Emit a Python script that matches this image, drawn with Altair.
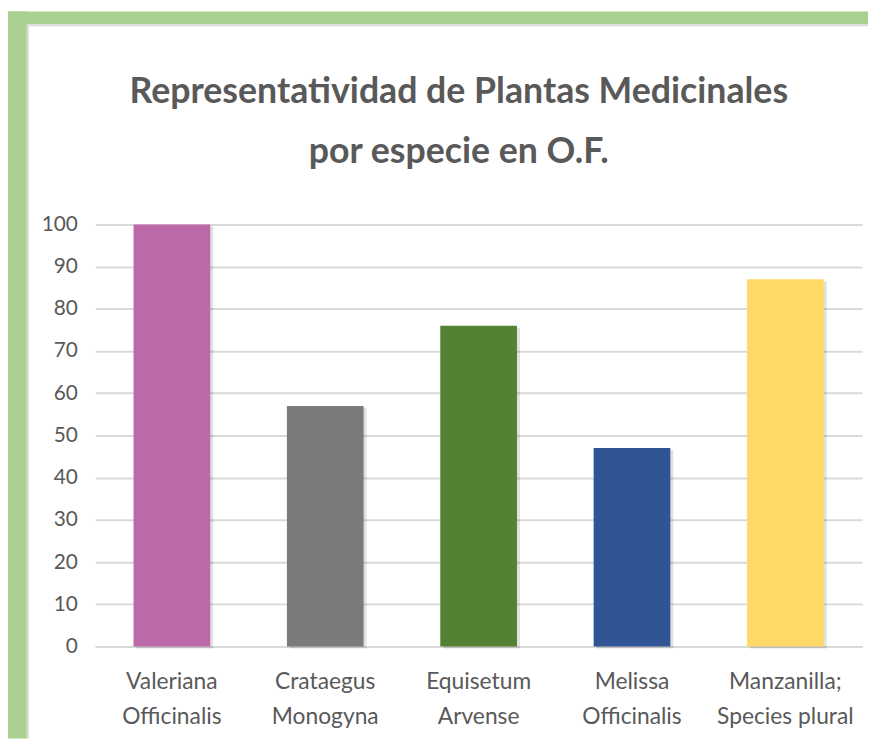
import altair as alt
import pandas as pd

categories = ["Valeriana\nOfficinalis", "Crataegus\nMonogyna", "Equisetum\nArvense",
              "Melissa\nOfficinalis", "Manzanilla;\nSpecies plural"]
values = [100, 57, 76, 47, 87]
colors = ["#BD69A9", "#7B7B7B", "#548235", "#2F5597", "#FFD966"]
y_ticks = [0, 10, 20, 30, 40, 50, 60, 70, 80, 90, 100]
title_lines = ["Representatividad de Plantas Medicinales", "por especie en O.F."]

df = pd.DataFrame({"especie": categories, "valor": values, "color": colors})

W, H = 774, 426
GREEN = "#A9D08E"
TEXT = "#595959"
FONT = "Lato"

x_enc = alt.X("especie:N", sort=None, title=None,
              scale=alt.Scale(paddingInner=0.5, paddingOuter=0.25),
              axis=alt.Axis(labelAngle=0, labelExpr="split(datum.label, '\\n')",
                            labelFont=FONT, labelFontSize=23, labelColor=TEXT,
                            labelLineHeight=36, labelPadding=24, labelBaseline="top",
                            ticks=False, domainColor="#D9D9D9", domainWidth=2,
                            grid=False))
y_enc = alt.Y("valor:Q", title=None,
              scale=alt.Scale(domain=[0, 100], nice=False),
              axis=alt.Axis(values=y_ticks, labelFont=FONT, labelFontSize=21,
                            labelColor=TEXT, labelPadding=18, ticks=False,
                            domain=False, gridColor="#D9D9D9", gridWidth=2))

shadow = alt.Chart(df).mark_bar(color="#000000", opacity=0.12, xOffset=3, yOffset=2).encode(
    x=x_enc, y=y_enc)
bars = alt.Chart(df).mark_bar().encode(
    x=x_enc, y=y_enc,
    color=alt.Color("color:N", scale=None, legend=None))

one = alt.Data(values=[{"k": 1}])
left_strip = alt.Chart(one).mark_rect(color=GREEN, clip=False).encode(
    x=alt.value(-88), x2=alt.value(-69), y=alt.value(-215), y2=alt.value(H + 93))
top_strip = alt.Chart(one).mark_rect(color=GREEN, clip=False).encode(
    x=alt.value(-88), x2=alt.value(W + 6), y=alt.value(-215), y2=alt.value(-202))
edge_left = alt.Chart(one).mark_rule(color="#D9D9D9", strokeWidth=2, clip=False).encode(
    x=alt.value(-68), y=alt.value(-202), y2=alt.value(H + 93))
edge_top = alt.Chart(one).mark_rule(color="#D9D9D9", strokeWidth=2, clip=False).encode(
    x=alt.value(-69), x2=alt.value(W + 6), y=alt.value(-201))

title1 = alt.Chart(alt.Data(values=[{"t": title_lines[0]}])).mark_text(
    font=FONT, fontSize=36, fontWeight="bold", color=TEXT, align="center",
    baseline="alphabetic", clip=False).encode(
    text="t:N", x=alt.value(W / 2 - 20), y=alt.value(-123))
title2 = alt.Chart(alt.Data(values=[{"t": title_lines[1]}])).mark_text(
    font=FONT, fontSize=36, fontWeight="bold", color=TEXT, align="center",
    baseline="alphabetic", clip=False).encode(
    text="t:N", x=alt.value(W / 2 - 20), y=alt.value(-62))

chart = alt.layer(left_strip, top_strip, edge_left, edge_top, title1, title2,
                  shadow, bars).properties(
    width=W, height=H,
    padding={"left": 88, "top": 215, "right": 6, "bottom": 93},
    autosize=alt.AutoSizeParams(type="none"),
    background="white",
).configure_view(stroke=None)

chart.save("out.html", embed_options={"renderer": "svg", "actions": False})
